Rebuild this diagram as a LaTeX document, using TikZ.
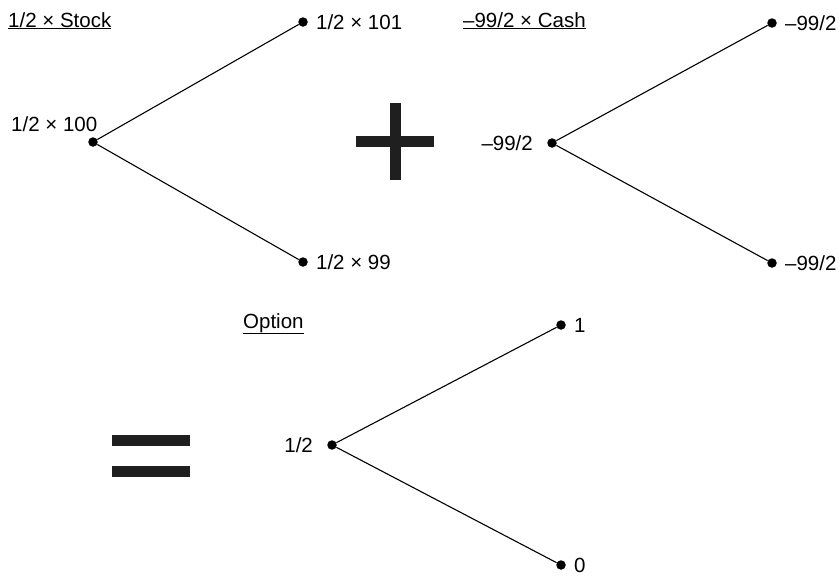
\documentclass[tikz,border=0pt]{standalone}
\usepackage{fontspec}
\setmainfont{Liberation Sans}
\usetikzlibrary{positioning}

\begin{document}
\begin{tikzpicture}[
    x=1pt, y=-1pt,
    dot/.style    = {circle, fill=black, inner sep=0pt, minimum size=9.5pt},
    val/.style    = {inner sep=0pt, font=\fontsize{20.5}{24}\selectfont},
    title/.style  = {val, anchor=base west},
    branch/.style = {line width=1.1pt},
    bar/.style    = {fill=black!88}
  ]
  \useasboundingbox (0,0) rectangle (839,576);

  % Stock tree
  \node[title] (stockT) at (8,27) {\underline{1/2 × Stock}};
  \node[dot] (s0) at (93,142) {};
  \node[dot] (su) at (303,22) {};
  \node[dot] (sd) at (303,262) {};
  \node[val, above left=7pt and -8pt of s0] (s0v) {1/2 × 100};
  \node[val, right=8pt of su] (suv) {1/2 × 101};
  \node[val, right=8pt of sd] (sdv) {1/2 × 99};
  \draw[branch] (s0) -- (su);
  \draw[branch] (s0) -- (sd);

  % Plus sign
  \fill[bar] (389.5,103) rectangle (400.5,180);
  \fill[bar] (356,136) rectangle (434,147);

  % Cash tree
  \node[title] (cashT) at (463,27) {\underline{–99/2 × Cash}};
  \node[dot] (c0) at (552,143) {};
  \node[dot] (cu) at (772,23) {};
  \node[dot] (cd) at (772,263) {};
  \node[val, left=14pt of c0] (c0v) {–99/2};
  \node[val, right=8pt of cu] (cuv) {–99/2};
  \node[val, right=8pt of cd] (cdv) {–99/2};
  \draw[branch] (c0) -- (cu);
  \draw[branch] (c0) -- (cd);

  % Equals sign
  \fill[bar] (112,435) rectangle (190,446);
  \fill[bar] (112,466) rectangle (190,477);

  % Option tree
  \node[title] (optT) at (243,328) {\underline{Option}};
  \node[dot] (o0) at (332,445) {};
  \node[dot] (ou) at (561,325) {};
  \node[dot] (od) at (561,565) {};
  \node[val, left=14pt of o0] (o0v) {1/2};
  \node[val, right=8pt of ou] (ouv) {1};
  \node[val, right=8pt of od] (odv) {0};
  \draw[branch] (o0) -- (ou);
  \draw[branch] (o0) -- (od);
\end{tikzpicture}
\end{document}
